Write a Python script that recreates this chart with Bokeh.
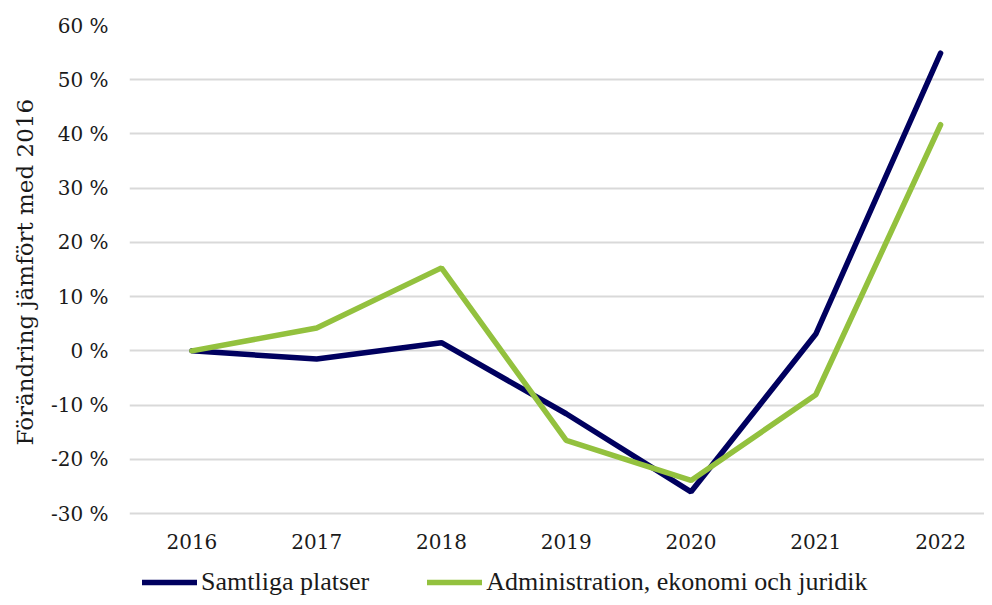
from bokeh.plotting import figure
from bokeh.models import Range1d, FixedTicker, PrintfTickFormatter, Legend, LegendItem, Title
from bokeh.embed import file_html
from bokeh.resources import INLINE

years = [2016, 2017, 2018, 2019, 2020, 2021, 2022]
samtliga = [0.0, -1.5, 1.5, -11.6, -26.0, 3.1, 54.9]
admin = [0.0, 4.2, 15.3, -16.5, -23.9, -8.1, 41.7]
y_ticks = [-30, -20, -10, 0, 10, 20, 30, 40, 50, 60]
series_names = ["Samtliga platser", "Administration, ekonomi och juridik"]
y_title = "Förändring jämfört med 2016"

NAVY = "#00005f"
GREEN = "#93c13e"

p = figure(width=984, height=597, output_backend="svg", toolbar_location=None,
           x_range=Range1d(2015.5, 2022.352), y_range=Range1d(-45.49, 60),
           min_border_left=129, min_border_right=0, min_border_top=25,
           min_border_bottom=0)
p.outline_line_color = None
p.background_fill_color = "white"
p.border_fill_color = "white"

l1 = p.line(years, samtliga, line_color=NAVY, line_width=5.5, line_cap="round")
l2 = p.line(years, admin, line_color=GREEN, line_width=5.5, line_cap="round")

p.xgrid.visible = False
p.ygrid.grid_line_color = "#d9d9d9"
p.ygrid.grid_line_width = 2
p.ygrid.ticker = FixedTicker(ticks=y_ticks)

p.yaxis.ticker = FixedTicker(ticks=y_ticks)
p.yaxis.formatter = PrintfTickFormatter(format="%d %%")
p.yaxis.axis_line_color = None
p.yaxis.major_tick_line_color = None
p.yaxis.minor_tick_line_color = None
p.yaxis.major_tick_out = 0
p.yaxis.major_tick_in = 0
p.yaxis.minor_tick_out = 0
p.yaxis.major_label_text_font = "DejaVu Serif"
p.yaxis.major_label_text_font_size = "20px"
p.yaxis.major_label_text_color = "#1a1a1a"
p.yaxis.major_label_standoff = 21

ytitle = Title(text=y_title, align="left", offset=152, vertical_align="middle",
               text_font="DejaVu Serif", text_font_size="23px",
               text_font_style="normal", text_color="#1a1a1a", standoff=17)
p.add_layout(ytitle, "left")

p.xaxis.ticker = FixedTicker(ticks=years)
p.xaxis.fixed_location = y_ticks[0]
p.xaxis.axis_line_color = None
p.xaxis.major_tick_line_color = None
p.xaxis.minor_tick_line_color = None
p.xaxis.major_tick_out = 0
p.xaxis.major_tick_in = 0
p.xaxis.minor_tick_out = 0
p.xaxis.major_label_text_font = "DejaVu Serif"
p.xaxis.major_label_text_font_size = "20px"
p.xaxis.major_label_text_color = "#1a1a1a"
p.xaxis.major_label_standoff = 20

legend = Legend(items=[LegendItem(label=series_names[0], renderers=[l1]),
                       LegendItem(label=series_names[1], renderers=[l2])],
                orientation="horizontal", location=(13, 0),
                label_text_font="Liberation Serif", label_text_font_size="26px",
                label_text_color="#1a1a1a", glyph_width=55, glyph_height=30,
                label_height=30, label_standoff=4, spacing=58, padding=0,
                margin=0, border_line_color=None, background_fill_alpha=0)
p.add_layout(legend, "center")

open("out.html", "w").write(file_html(p, INLINE))
